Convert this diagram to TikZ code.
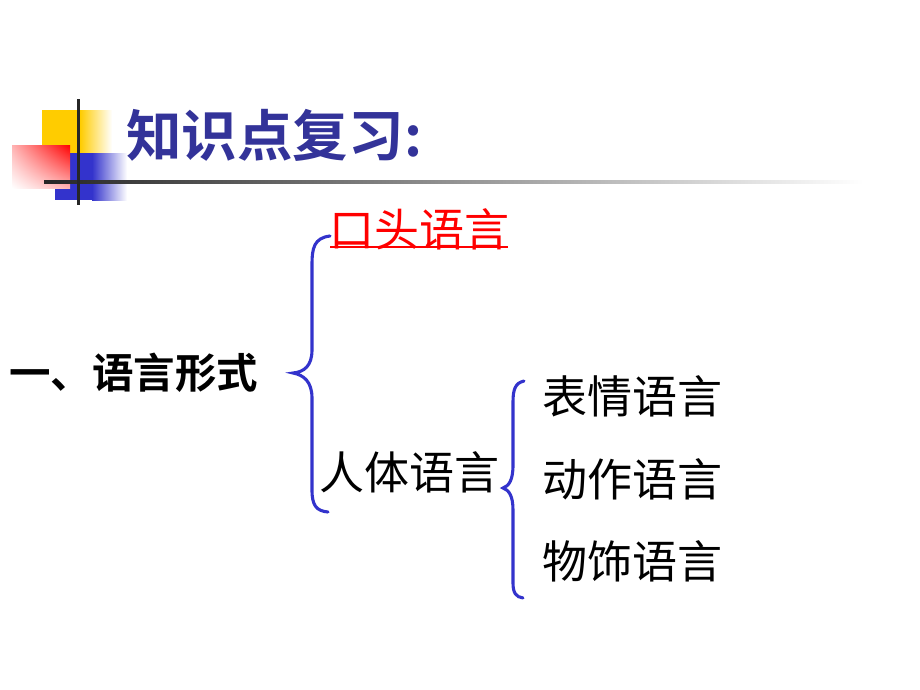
\documentclass[tikz,border=0pt]{standalone}
\usepackage{fontspec}
\setmainfont{Noto Sans CJK SC}[BoldFont={Noto Sans CJK SC Bold}]
\usepackage{tikz}
\usetikzlibrary{shadings}
\definecolor{titleblue}{HTML}{333399}
\definecolor{bracecol}{HTML}{3333CC}
\definecolor{boxyellow}{HTML}{FFCC00}
\tikzset{
  txt/.style={anchor=west,inner sep=0pt,font=\fontsize{32pt}{32pt}\selectfont},
  brace/.style={draw=bracecol,line width=2.2pt,line cap=round}
}
\begin{document}
\begin{tikzpicture}[x=0.025cm,y=-0.025cm]
\useasboundingbox[fill=white] (0,0) rectangle (920,690);
% corner decoration
\fill[boxyellow] (42,110) rectangle (80,165);
\shade[left color=boxyellow,right color=white] (80,110) rectangle (112,165);
\fill[bracecol] (55,153) rectangle (92,200);
\shade[left color=bracecol,right color=white] (92,153) rectangle (127,200);
\shade[upper right=red,upper left=red!30,lower right=red!30,lower left=white] (12,145) rectangle (70,188);
\shade[left color=black!85,right color=white] (44,180) rectangle (863,183);
\fill[black!85] (77,99) rectangle (80,205);
\node[anchor=west,inner sep=0pt,text=titleblue,font=\fontsize{39.5pt}{39.5pt}\bfseries] (title) at (126,135) {知识点复习:};
% tree
\node[txt,text=red] (oral) at (329,229) {口头语言};
\draw[red,line width=1.4pt] (330,247) -- (508,247);
\node[txt,font=\fontsize{29.5pt}{29.5pt}\bfseries] (form) at (9,373) {一、语言形式};
\node[txt] (body) at (319,472) {人体语言};
\node[txt] (face) at (542,396) {表情语言};
\node[txt] (act) at (542,479) {动作语言};
\node[txt] (dress) at (542,561) {物饰语言};
\coordinate (b1) at (293,373);
\coordinate (b2) at (503,488);
\draw[brace] (330,236) .. controls (314,238) and (312,248) .. (312,265) -- (312,350)
  .. controls (312,366) and (304,372) .. (b1) .. controls (304,375) and (312,382) .. (312,398)
  -- (312,490) .. controls (312,505) and (316,511) .. (328,512);
\draw[brace] (524,381) .. controls (515,383) and (513,390) .. (513,402) -- (513,465)
  .. controls (513,480) and (509,486) .. (b2) .. controls (509,490) and (513,496) .. (513,510)
  -- (513,583) .. controls (513,593) and (516,597) .. (523,598);
\end{tikzpicture}
\end{document}
